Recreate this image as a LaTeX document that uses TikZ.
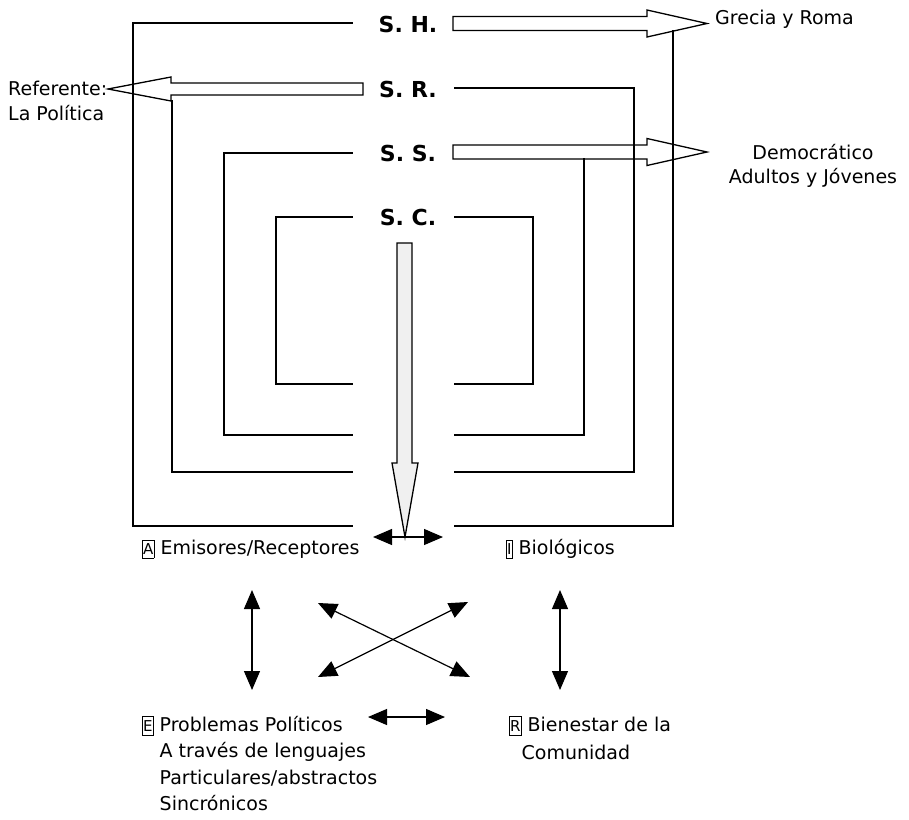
\documentclass[tikz,border=0pt]{standalone}
\usepackage{fontspec}
\setmainfont{DejaVu Sans}
\usetikzlibrary{arrows.meta}
\newcommand\boxl[1]{{\setlength\fboxsep{0.4pt}\setlength\fboxrule{0.6pt}\fbox{\rule[-3pt]{0pt}{17pt}\fontsize{15}{15}\selectfont #1}}}
\tikzset{
  ln/.style={line width=1.5pt, line cap=rect},
  hollow/.style={draw, line width=1.3pt, fill=white, line join=miter},
  dbl/.style={line width=1.2pt, {Triangle[length=19pt,width=16pt]}-{Triangle[length=19pt,width=16pt]}},
  lbl/.style={font=\fontsize{22}{22}\selectfont\bfseries, inner sep=0pt},
  txt/.style={font=\fontsize{19}{24}\selectfont, inner sep=0pt, align=left},
}
\begin{document}
\begin{tikzpicture}[x=1pt,y=-1pt]
\path[use as bounding box] (0,0) rectangle (909,819);

% level labels
\node[lbl] (sh) at (408,24) {S. H.};
\node[lbl] (sr) at (408,89) {S. R.};
\node[lbl] (ss) at (408,153) {S. S.};
\node[lbl] (sc) at (408,217) {S. C.};

% hollow arrows
\draw[hollow] (453,16.5) -- (647,16.5) -- (647,10) -- (707,23.5) -- (647,37) -- (647,30.5) -- (453,30.5) -- cycle;
\draw[hollow] (453,145) -- (647,145) -- (647,138.5) -- (707,152) -- (647,165.5) -- (647,159) -- (453,159) -- cycle;
\draw[hollow] (363,83) -- (171,83) -- (171,77) -- (108,89) -- (171,101) -- (171,95) -- (363,95) -- cycle;

% brackets
\draw[ln] (352,23) -| (133,526) -- (352,526);
\draw[ln] (673,30.5) |- (455,526);
\draw[ln] (172,101) |- (352,472);
\draw[ln] (455,88) -| (634,472) -- (455,472);
\draw[ln] (352,153) -| (224,435) -- (352,435);
\draw[ln] (584,159) |- (455,435);
\draw[ln] (352,217) -| (276,384) -- (352,384);
\draw[ln] (455,217) -| (533,384) -- (455,384);

% central arrow
\draw[line width=1.3pt, fill=gray!12] (397,243) -- (412,243) -- (412,463) -- (418,463) -- (405,537) -- (392,463) -- (397,463) -- cycle;

% side texts
\node[txt, anchor=west] (gr) at (715,19) {Grecia y Roma};
\node[txt, align=center] (dem) at (813,166) {Democrático\\Adultos y Jóvenes};
\node[txt, anchor=west, font=\fontsize{19}{25}\selectfont] (ref) at (8,101) {Referente:\\La Política};

% bottom labels
\node[txt, anchor=west] (emi) at (142,549) {\boxl{A} Emisores/Receptores};
\node[txt, anchor=west] (bio) at (506,549) {\boxl{I} Biológicos};
\node[txt, anchor=north west, font=\fontsize{19}{26.5}\selectfont] (prob) at (142,716)
  {\boxl{E} Problemas Políticos\\
   \phantom{\boxl{E}} A través de lenguajes\\
   \phantom{\boxl{E}} Particulares/abstractos\\
   \phantom{\boxl{E}} Sincrónicos};
\node[txt, anchor=north west, font=\fontsize{19}{28}\selectfont] (bien) at (509,716)
  {\boxl{R} Bienestar de la\\
   \phantom{\boxl{R}}Comunidad};

% relation arrows
\coordinate (t1) at (373,537); \coordinate (t2) at (443,537);
\coordinate (l1) at (252,590); \coordinate (l2) at (252,690);
\coordinate (r1) at (560,590); \coordinate (r2) at (560,690);
\coordinate (d1) at (318,603); \coordinate (d2) at (470,677);
\coordinate (e1) at (468,602); \coordinate (e2) at (318,677);
\coordinate (b1) at (368,717); \coordinate (b2) at (445,717);
\draw[dbl] (t1) -- (t2);
\draw[dbl] (l1) -- (l2);
\draw[dbl] (r1) -- (r2);
\draw[dbl] (d1) -- (d2);
\draw[dbl] (e1) -- (e2);
\draw[dbl] (b1) -- (b2);
\end{tikzpicture}
\end{document}
